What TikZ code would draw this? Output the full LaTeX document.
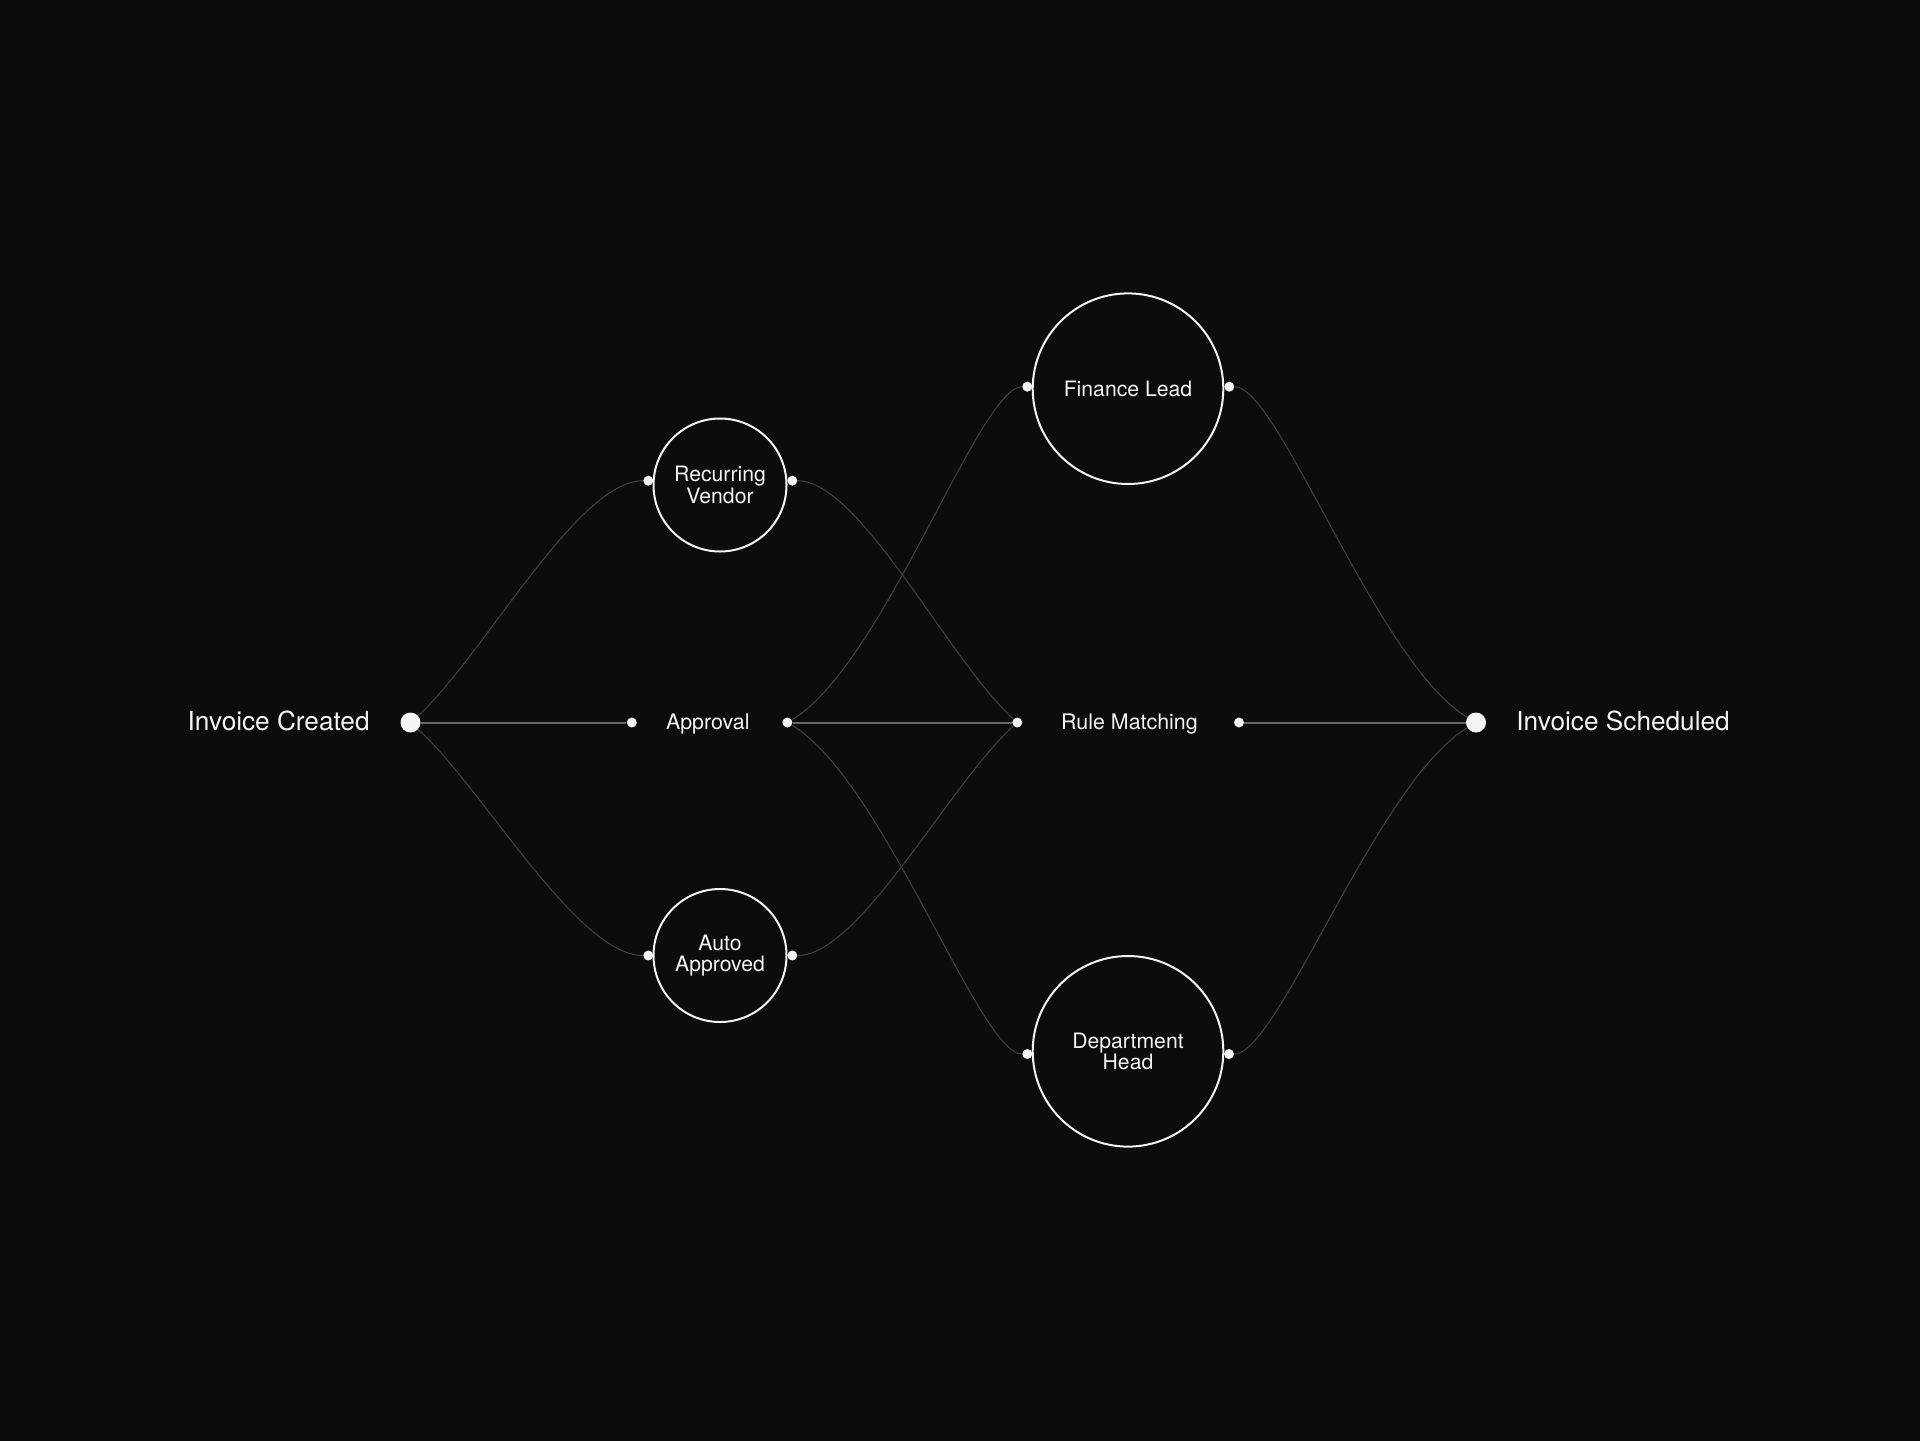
\documentclass[tikz,border=0pt]{standalone}
\usepackage{fontspec}
\setmainfont{TeX Gyre Heros}
\usetikzlibrary{calc}
\definecolor{bgc}{HTML}{0C0C0C}
\definecolor{curvec}{HTML}{3E3E3E}
\definecolor{linec}{HTML}{666666}
\definecolor{fgc}{HTML}{F4F4F4}
\begin{document}
\begin{tikzpicture}[x=0.5pt,y=-0.5pt,
  bigdot/.style={circle,fill=fgc,inner sep=0pt,minimum size=10pt},
  port/.style={circle,fill=fgc,inner sep=0pt,minimum size=5pt},
  stage/.style={circle,draw=fgc,line width=1pt,text=fgc,align=center,inner sep=0pt,font=\fontsize{10.6pt}{10.8pt}\selectfont},
  smallstage/.style={stage,minimum size=66.5pt},
  largestage/.style={stage,minimum size=95.3pt},
  endlabel/.style={text=fgc,inner sep=0pt,font=\fontsize{13.1pt}{14pt}\selectfont},
  midlabel/.style={text=fgc,inner sep=0pt,anchor=base,font=\fontsize{10.7pt}{12pt}\selectfont},
  flow/.style={draw=curvec,line width=0.55pt},
  trunk/.style={draw=linec,line width=1pt}]
\useasboundingbox (0,0) rectangle (1920,1440);
\fill[bgc] (-20,-20) rectangle (1940,1460);

% stage circles
\node[smallstage] (rv) at (720,485) {Recurring\\Vendor};
\node[smallstage] (aa) at (720,955.5) {Auto\\Approved};
\node[largestage] (fl) at (1128,388.7) {Finance Lead};
\node[largestage] (dh) at (1128,1051.3) {Department\\Head};

% end points
\node[bigdot] (S) at (410.5,722.5) {};
\node[bigdot] (E) at (1476,722.5) {};
\node[endlabel,anchor=east] (ic) at (370,720.5) {Invoice Created};
\node[endlabel,anchor=west] (is) at (1516,720.5) {Invoice Scheduled};

% middle row
\node[port] (al) at (631.8,722.5) {};
\node[port] (ar) at (787.4,722.5) {};
\node[midlabel] (ap) at (707.8,729.8) {Approval};
\node[port] (rl) at (1017.3,722.5) {};
\node[port] (rr) at (1239,722.5) {};
\node[midlabel] (rm) at (1129.5,729.8) {Rule Matching};

% circle ports
\node[port] (rvl) at (648.3,480.7) {};
\node[port] (rvr) at (792.3,480.7) {};
\node[port] (aal) at (648.3,955.5) {};
\node[port] (aar) at (792.3,955.5) {};
\node[port] (fll) at (1027.3,386.7) {};
\node[port] (flr) at (1229.3,386.7) {};
\node[port] (dhl) at (1027.3,1054) {};
\node[port] (dhr) at (1229,1054) {};

% curved flows
\draw[flow] (S) .. controls ($(S)+(71.3,-64.2)$) and ($(rvl)+(-71.3,0)$) .. (rvl);
\draw[flow] (S) .. controls ($(S)+(71.3,64.2)$) and ($(aal)+(-71.3,0)$) .. (aal);
\draw[flow] (rl) .. controls ($(rl)+(-67.5,-60.8)$) and ($(rvr)+(67.5,0)$) .. (rvr);
\draw[flow] (rl) .. controls ($(rl)+(-67.5,60.8)$) and ($(aar)+(67.5,0)$) .. (aar);
\draw[flow] (ar) .. controls ($(ar)+(96,-57.6)$) and ($(fll)+(-48,0)$) .. (fll);
\draw[flow] (ar) .. controls ($(ar)+(96,57.6)$) and ($(dhl)+(-48,0)$) .. (dhl);
\draw[flow] (E) .. controls ($(E)+(-98.7,-59.2)$) and ($(flr)+(49.3,0)$) .. (flr);
\draw[flow] (E) .. controls ($(E)+(-98.7,59.2)$) and ($(dhr)+(49.3,0)$) .. (dhr);

% straight trunks
\draw[trunk] (S) -- (al);
\draw[trunk] (ar) -- (rl);
\draw[trunk] (rr) -- (E);
\end{tikzpicture}
\end{document}
